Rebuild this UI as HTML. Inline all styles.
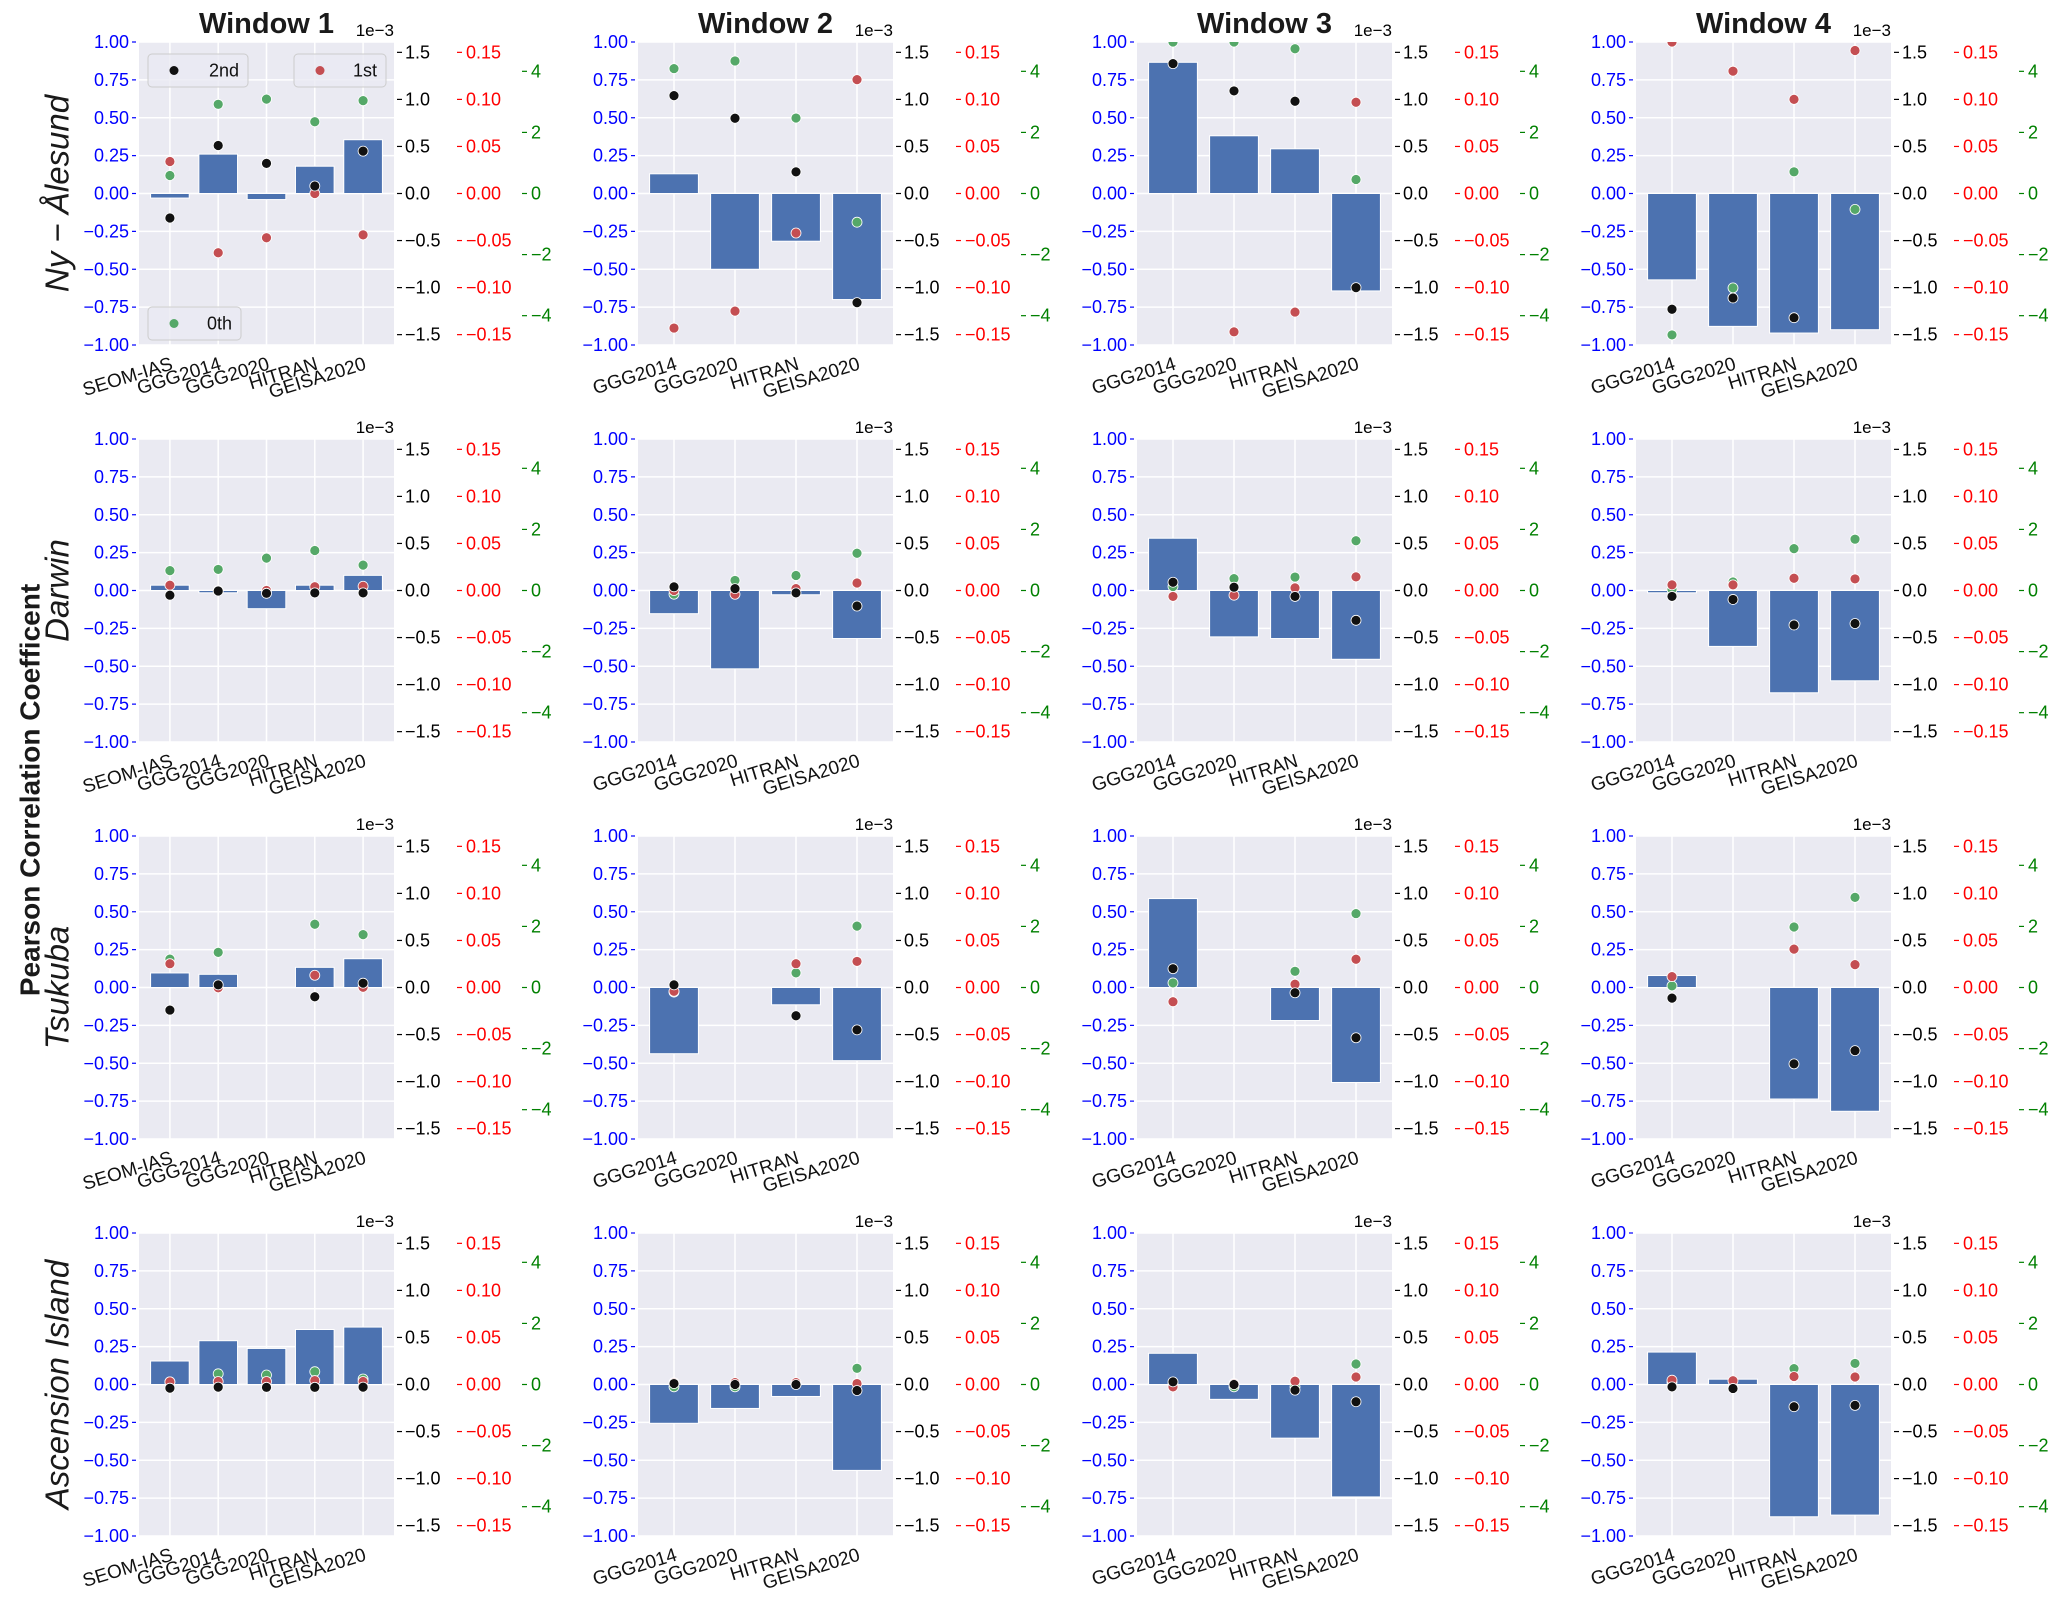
<!DOCTYPE html>
<html><head><meta charset="utf-8"><style>
html,body{margin:0;padding:0;background:#fff;}
svg{display:block;font-family:"Liberation Sans",Arial,sans-serif;}
</style></head><body>
<svg id="fig" width="2067" height="1600" viewBox="0 0 2067 1600" xmlns="http://www.w3.org/2000/svg"></svg>
<script>
const stations = ["Ny \u2212 \u00C5lesund", "Darwin", "Tsukuba", "Ascension Island"];
const windows = ["Window 1", "Window 2", "Window 3", "Window 4"];
const cats5 = ["SEOM-IAS", "GGG2014", "GGG2020", "HITRAN", "GEISA2020"];
const cats4 = ["GGG2014", "GGG2020", "HITRAN", "GEISA2020"];
const leftTicks = [-1, -0.75, -0.5, -0.25, 0, 0.25, 0.5, 0.75, 1];
const blackTicks = [-1.5, -1.0, -0.5, 0.0, 0.5, 1.0, 1.5];
const redTicks = [-0.15, -0.10, -0.05, 0.00, 0.05, 0.10, 0.15];
const greenTicks = [-4, -2, 0, 2, 4];
// bar values (Pearson r), rows = stations, cols = windows; null = missing
const barVals = [
 [[-0.03,0.26,-0.04,0.18,0.355],[0.13,-0.50,-0.315,-0.70],[0.866,0.381,0.295,-0.643],[-0.57,-0.877,-0.921,-0.899]],
 [[0.035,-0.015,-0.12,0.035,0.10],[-0.153,-0.517,-0.028,-0.317],[0.345,-0.306,-0.317,-0.454],[-0.015,-0.369,-0.675,-0.596]],
 [[0.096,0.087,null,0.133,0.19],[-0.437,null,-0.114,-0.483],[0.587,null,-0.218,-0.627],[0.079,null,-0.736,-0.817]],
 [[0.155,0.289,0.238,0.363,0.379],[-0.256,-0.158,-0.079,-0.567],[0.206,-0.098,-0.354,-0.742],[0.214,0.035,-0.873,-0.862]]
];
// 2nd order coefficient (x1e-3)
const secondVals = [
 [[-0.26,0.51,0.32,0.08,0.45],[1.04,0.80,0.23,-1.16],[1.38,1.09,0.98,-1.0],[-1.23,-1.11,-1.32,null]],
 [[-0.05,-0.005,-0.03,-0.025,-0.025],[0.039,0.02,-0.025,-0.165],[0.088,0.035,-0.063,-0.317],[-0.063,-0.095,-0.366,-0.351]],
 [[-0.24,0.028,null,-0.098,0.046],[0.028,null,-0.30,-0.45],[0.20,null,-0.056,-0.534],[-0.113,null,-0.812,-0.671]],
 [[-0.039,-0.028,-0.03,-0.03,-0.028],[0.01,0.0,0.0,-0.064],[0.028,0.0,-0.06,-0.183],[-0.025,-0.042,-0.236,-0.222]]
];
// 1st order coefficient
const firstVals = [
 [[0.034,-0.063,-0.047,0.0,-0.044],[-0.143,-0.125,-0.042,0.121],[0.20,-0.147,-0.126,0.097],[0.161,0.130,0.100,0.152]],
 [[0.0056,0.0,0.0,0.004,0.0045],[0.0,-0.004,0.002,0.008],[-0.0063,-0.005,0.0028,0.0145],[0.006,0.006,0.013,0.0123]],
 [[0.0253,-0.0003,null,0.013,0.0003],[-0.004,null,0.0253,0.0277],[-0.0151,null,0.0035,0.030],[0.0116,null,0.0408,0.0243]],
 [[0.0028,0.0032,0.0032,0.0042,0.0032],[0.002,0.002,0.002,0.001],[-0.0025,0.001,0.0035,0.008],[0.0046,0.004,0.0085,0.008]]
];
// 0th order coefficient
const zerothVals = [
 [[0.59,2.92,3.09,2.35,3.04],[4.09,4.34,2.47,-0.94],[4.96,4.96,4.74,0.46],[-4.63,-3.09,0.71,-0.52]],
 [[0.65,0.69,1.06,1.31,0.83],[-0.12,0.33,0.49,1.22],[0.13,0.39,0.44,1.63],[0.04,0.28,1.37,1.68]],
 [[0.93,1.15,null,2.07,1.73],[-0.15,null,0.48,2.01],[0.15,null,0.53,2.42],[0.054,null,1.98,2.95]],
 [[0.087,0.35,0.31,0.42,0.18],[-0.075,-0.075,0.01,0.53],[0.01,-0.075,-0.075,0.67],[0.065,-0.1,0.52,0.69]]
];

const NS = "http://www.w3.org/2000/svg";
const svg = document.getElementById("fig");
function mk(tag, attrs, parent, text){
  const e = document.createElementNS(NS, tag);
  for (const k in attrs) e.setAttribute(k, attrs[k]);
  if (text !== undefined) e.textContent = text;
  (parent||svg).appendChild(e);
  return e;
}
const colX = [139, 638, 1137, 1636];
const rowY = [42, 439, 836, 1233];
const PW = 255, PH = 303;
const BLACK_LIM = 1.61, RED_LIM = 0.161, GREEN_LIM = 4.96;
const FS = 18;
function fmtL(v){ return (v<0?"\u2212":"") + Math.abs(v).toFixed(2); }
function fmtB(v){ return (v<0?"\u2212":"") + Math.abs(v).toFixed(1); }
function fmtR(v){ return (v<0?"\u2212":"") + Math.abs(v).toFixed(2); }
function fmtG(v){ return (v<0?"\u2212":"") + Math.abs(v).toFixed(0); }

const defs = mk("defs", {});

for (let r = 0; r < 4; r++) {
 for (let c = 0; c < 4; c++) {
  const L = colX[c], T = rowY[r], R = L + PW, B = T + PH;
  const cats = c === 0 ? cats5 : cats4;
  const n = cats.length;
  const x0 = -0.4 - 0.05*(n-1+0.8), x1 = n-1+0.4 + 0.05*(n-1+0.8);
  const sx = v => L + (v - x0) / (x1 - x0) * PW;
  const sy = (v, lim) => T + (lim - v) / (2*lim) * PH;
  const g = mk("g", {});
  
  
  const cp = mk("clipPath", {id: "cp"+r+c}, defs);
  mk("rect", {x:L, y:T, width:PW, height:PH}, cp);
  const bg = mk("rect", {x:L, y:T, width:PW, height:PH, fill:"#EAEAF2"}, g);
  
  
  leftTicks.forEach(t => { const y = sy(t,1); mk("line", {x1:L, x2:R, y1:y, y2:y, stroke:"#fff", "stroke-width":1.5}, g); });
  cats.forEach((k,i) => { const x = sx(i); mk("line", {x1:x, x2:x, y1:T, y2:B, stroke:"#fff", "stroke-width":1.5}, g); });
  const clipG = mk("g", {"clip-path":"url(#cp"+r+c+")"}, g);
  barVals[r][c].forEach((v,i) => {
    if (v === null) return;
    const y0 = sy(0,1), yv = sy(v,1);
    const b = mk("rect", {x:sx(i-0.4), y:Math.min(y0,yv), width:sx(0.8)-sx(0), height:Math.abs(yv-y0), fill:"#4C72B0", stroke:"#fff", "stroke-width":1}, clipG);
    
    
  });
  const series = [[zerothVals, GREEN_LIM, "#55A868", "0th"], [firstVals, RED_LIM, "#C44E52", "1st"], [secondVals, BLACK_LIM, "#111111", "2nd"]];
  series.forEach(([arr, lim, col, nm]) => {
    arr[r][c].forEach((v,i) => {
      if (v === null) return;
      const p = mk("circle", {cx:sx(i), cy:sy(v,lim), r:5, fill:col, stroke:"#fff", "stroke-width":0.8}, clipG);
      
      
    });
  });
  leftTicks.forEach(t => {
    const y = sy(t,1);
    mk("line", {x1:L-7, x2:L-3, y1:y, y2:y, stroke:"#0000ff", "stroke-width":1.2}, g);
    const tl = mk("text", {x:L-10, y:y+6, "text-anchor":"end", "font-size":FS, fill:"#0000ff"}, g, fmtL(t));
    
    
  });
  blackTicks.forEach(t => {
    const y = sy(t,BLACK_LIM);
    mk("line", {x1:R+3, x2:R+8, y1:y, y2:y, stroke:"#000", "stroke-width":1.2}, g);
    const tl = mk("text", {x:R+11, y:y+6, "font-size":FS, fill:"#000"}, g, fmtB(t));
    
    
  });
  const oe = mk("text", {x:R, y:T-6, "text-anchor":"end", "font-size":17, fill:"#000"}, g, "1e\u22123");
  
  
  redTicks.forEach(t => {
    const y = sy(t,RED_LIM);
    mk("line", {x1:R+63, x2:R+68, y1:y, y2:y, stroke:"#ff0000", "stroke-width":1.2}, g);
    const tl = mk("text", {x:R+72, y:y+6, "font-size":FS, fill:"#ff0000"}, g, fmtR(t));
    
    
  });
  greenTicks.forEach(t => {
    const y = sy(t,GREEN_LIM);
    mk("line", {x1:R+128, x2:R+133, y1:y, y2:y, stroke:"#008000", "stroke-width":1.2}, g);
    const tl = mk("text", {x:R+137, y:y+6, "font-size":FS, fill:"#008000"}, g, fmtG(t));
    
    
  });
  cats.forEach((k,i) => {
    const x = sx(i) + 4, y = B + 24;
    const tl = mk("text", {x:x, y:y, "text-anchor":"end", "font-size":19, fill:"#111", transform:"rotate(-17 "+x+" "+y+")"}, g, k);
    
    
  });
  if (r === 0) {
    const tt = mk("text", {x:L+PW/2, y:33, "text-anchor":"middle", "font-size":29, "font-weight":"bold", fill:"#1a1a1a"}, g, windows[c]);
    
    
  }
  if (c === 0) {
    const cy = T + PH/2;
    const sl = mk("text", {x:57, y:cy, "text-anchor":"middle", "dominant-baseline":"central", "font-size":33, "font-style":"italic", fill:"#1a1a1a", transform:"rotate(-90 57 "+cy+")"}, g, stations[r]);
    
    
  }
  if (r === 0 && c === 0) {
    const legs = [[148, 54, 100, 33, "#111111", "2nd"], [294, 54, 92, 33, "#C44E52", "1st"], [148, 307, 93, 33, "#55A868", "0th"]];
    legs.forEach(([lx, ly, lw, lh, col, lab]) => {
      const lg = mk("g", {}, g);
      
      
      mk("rect", {x:lx, y:ly, width:lw, height:lh, rx:4, fill:"#EAEAF2", "fill-opacity":0.8, stroke:"#cccccc", "stroke-width":1}, lg);
      mk("circle", {cx:lx+26, cy:ly+lh/2, r:4.5, fill:col}, lg);
      mk("text", {x:lx+lw-9, y:ly+lh/2+6, "text-anchor":"end", "font-size":FS, fill:"#111"}, lg, lab);
    });
  }
 }
}
const yl = mk("text", {x:30, y:790, "text-anchor":"middle", "dominant-baseline":"central", "font-size":28, "font-weight":"bold", fill:"#1a1a1a", transform:"rotate(-90 30 790)"}, svg, "Pearson Correlation Coefficent");


</script>
</body></html>
